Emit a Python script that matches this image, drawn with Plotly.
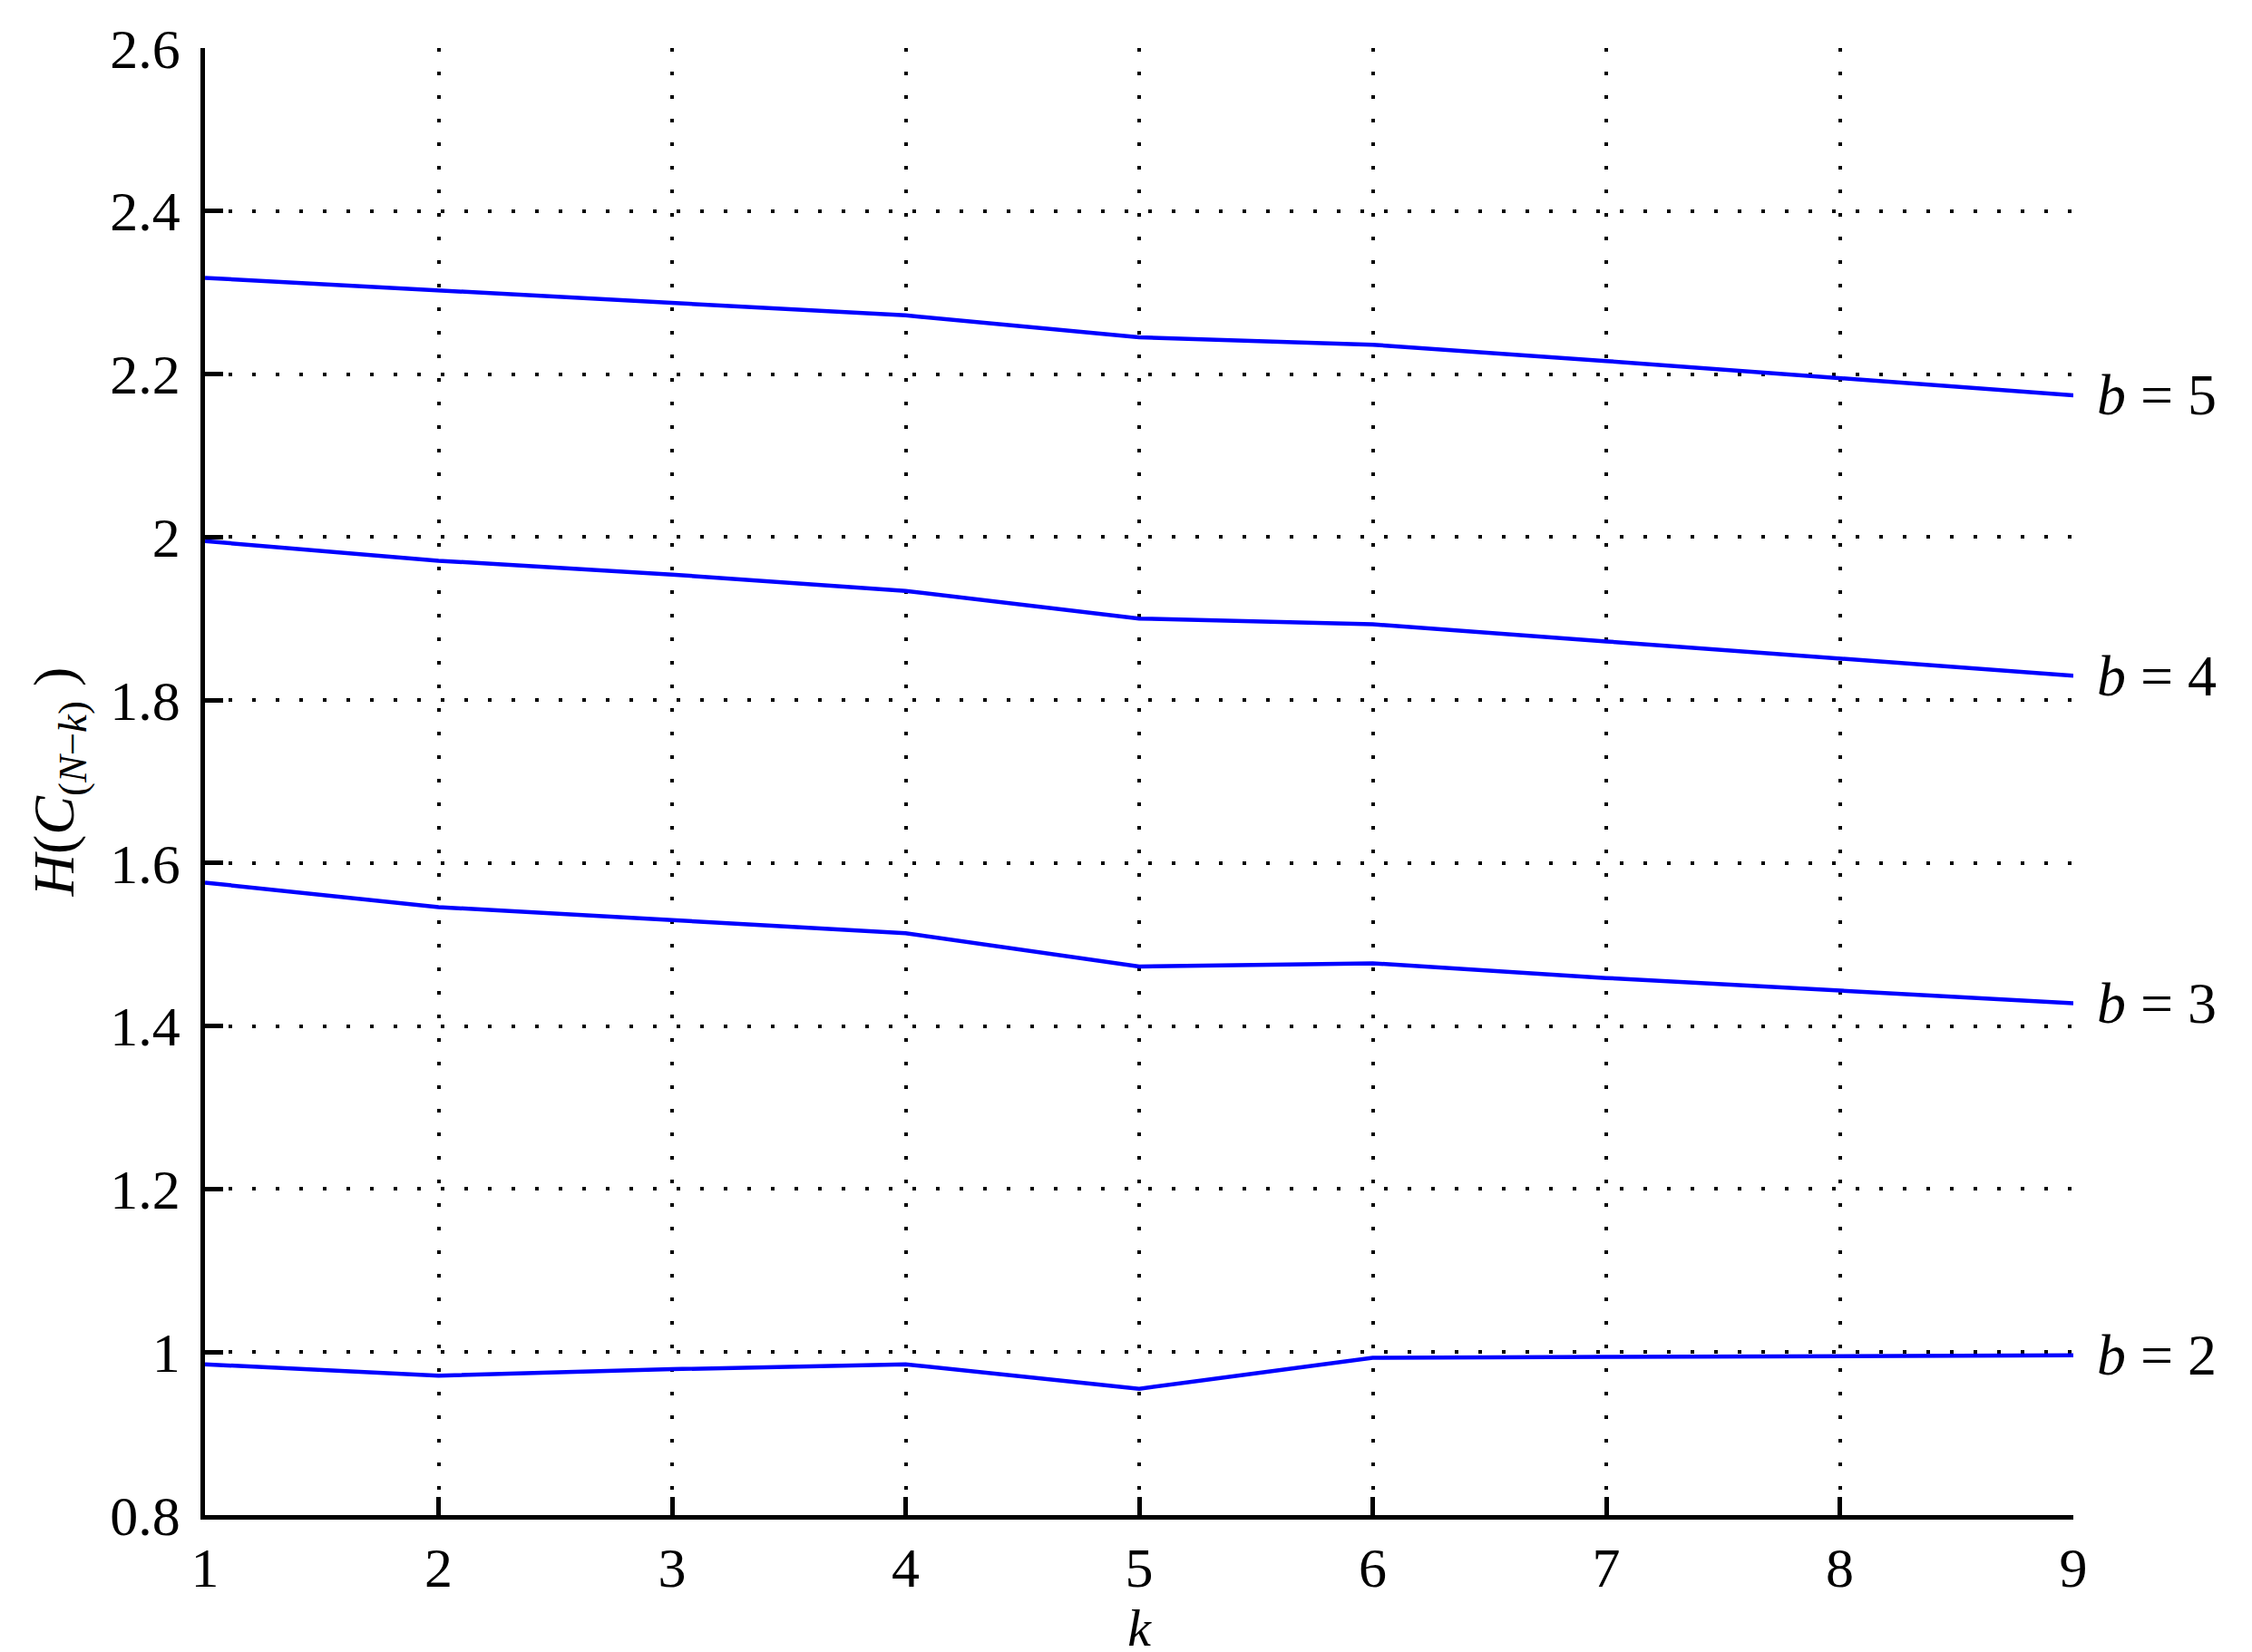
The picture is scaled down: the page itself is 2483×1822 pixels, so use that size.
import plotly.graph_objects as go

# k values and entropy per bit-depth b
k = [1, 2, 3, 4, 5, 6, 7, 8, 9]
h_b2 = [0.985, 0.971, 0.979, 0.985, 0.955, 0.993, 0.994, 0.995, 0.996]
h_b3 = [1.576, 1.546, 1.530, 1.514, 1.473, 1.477, 1.459, 1.444, 1.428]
h_b4 = [1.995, 1.971, 1.954, 1.934, 1.900, 1.893, 1.872, 1.851, 1.830]
h_b5 = [2.318, 2.303, 2.288, 2.272, 2.245, 2.236, 2.216, 2.195, 2.174]
series = [("2", h_b2), ("3", h_b3), ("4", h_b4), ("5", h_b5)]

x_ticks = [1, 2, 3, 4, 5, 6, 7, 8, 9]
y_ticks = [0.8, 1.0, 1.2, 1.4, 1.6, 1.8, 2.0, 2.2, 2.4, 2.6]
y_labels = ["0.8", "1", "1.2", "1.4", "1.6", "1.8", "2", "2.2", "2.4", "2.6"]

FONT = "Liberation Serif"

fig = go.Figure()
for b, h in series:
    fig.add_trace(go.Scatter(x=k, y=h, mode="lines",
                             line=dict(color="#0000ff", width=4.5),
                             showlegend=False))
    # curve label just right of the last point
    fig.add_annotation(x=k[-1], y=h[-1], xref="x", yref="y",
                       text="<i>b</i> = " + b, showarrow=False,
                       xanchor="left", yanchor="middle", xshift=24,
                       font=dict(family=FONT, size=64, color="black"))

axis_style = dict(showline=True, linecolor="black", linewidth=4.5,
                  ticks="inside", ticklen=20, tickwidth=4.5, tickcolor="black",
                  showgrid=True, gridcolor="black", gridwidth=3.5,
                  griddash="4px,22px", zeroline=False, mirror=False,
                  tickfont=dict(family=FONT, size=62, color="black"))

fig.update_xaxes(range=[1, 9], tickvals=x_ticks, ticklabelstandoff=0,
                 title=dict(text="<i>k</i>", standoff=0,
                            font=dict(family=FONT, size=58, color="black")),
                 **axis_style)
fig.update_yaxes(range=[0.8, 2.6], tickvals=y_ticks, ticktext=y_labels,
                 ticklabelstandoff=10,
                 title=dict(text="<i>H</i>(<i>C</i><sub>(<i>N</i>−<i>k</i>)</sub> )",
                            standoff=20,
                            font=dict(family=FONT, size=64, color="black")),
                 **axis_style)

fig.update_layout(width=2483, height=1822,
                  margin=dict(l=218, r=205, t=41, b=159),
                  plot_bgcolor="white", paper_bgcolor="white",
                  font=dict(family=FONT, color="black"))

fig.write_html("out.html")
